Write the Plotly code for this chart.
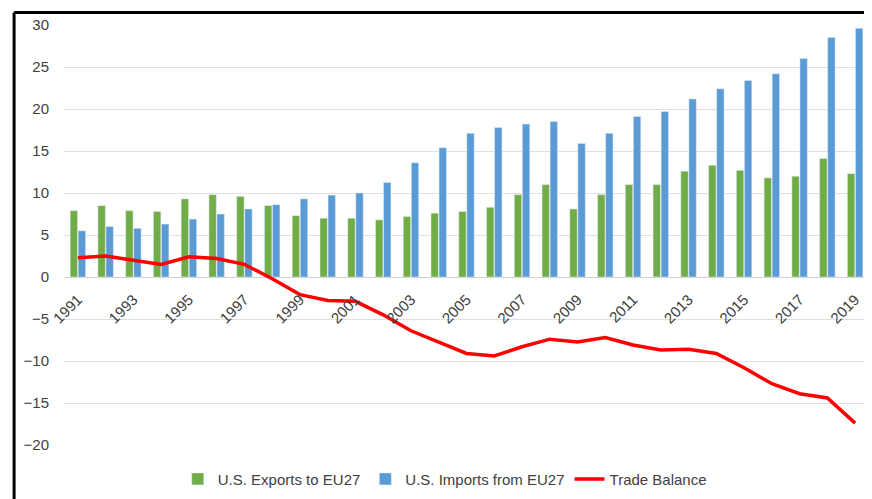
import plotly.graph_objects as go

years = list(range(1991, 2020))
exports = [7.9, 8.5, 7.9, 7.8, 9.3, 9.8, 9.6, 8.5, 7.3, 7.0, 7.0, 6.8, 7.2, 7.6, 7.8, 8.3,
           9.8, 11.0, 8.1, 9.8, 11.0, 11.0, 12.6, 13.3, 12.7, 11.8, 12.0, 14.1, 12.3]
imports = [5.5, 6.0, 5.8, 6.3, 6.9, 7.5, 8.1, 8.6, 9.3, 9.75, 10.0, 11.25, 13.6, 15.4, 17.1, 17.8,
           18.2, 18.5, 15.9, 17.1, 19.1, 19.7, 21.2, 22.4, 23.4, 24.2, 26.0, 28.5, 29.6]
balance = [2.3, 2.5, 2.0, 1.5, 2.4, 2.2, 1.5, -0.2, -2.1, -2.8, -2.9, -4.5, -6.4, -7.8, -9.1, -9.4,
           -8.3, -7.4, -7.75, -7.2, -8.1, -8.7, -8.6, -9.1, -10.8, -12.7, -13.9, -14.4, -17.4]
tick_years = list(range(1991, 2020, 2))

fig = go.Figure()
fig.add_trace(go.Bar(x=years, y=exports, name="U.S. Exports to EU27", marker_color="#70AD47"))
fig.add_trace(go.Bar(x=years, y=imports, name="U.S. Imports from EU27", marker_color="#5B9BD5"))
fig.add_trace(go.Scatter(x=years, y=balance, name="Trade Balance", mode="lines",
                         line=dict(color="#FF0000", width=3.5)))

# page body has an 8px margin, so the figure is sized and offset for that
fig.update_layout(
    width=864, height=491,
    margin=dict(l=56, r=3, t=17, b=40),
    paper_bgcolor="white", plot_bgcolor="white",
    font=dict(family="Liberation Sans, Arial", size=14, color="#404040"),
    barmode="group", bargap=0.42, bargroupgap=0.08,
    showlegend=True,
    legend=dict(orientation="h", x=0.473, xanchor="center", y=-0.042, yanchor="top",
                font=dict(size=15, color="#404040"), itemwidth=30),
    xaxis=dict(range=[1990.5, 2019.5], tickvals=tick_years, ticktext=[str(y) for y in tick_years],
               tickangle=-45, anchor="free", position=0.4, showgrid=False, showline=False,
               zeroline=False, ticks="", ticklabelstandoff=10, tickfont=dict(size=15)),
    yaxis=dict(range=[-20, 30], dtick=5, showgrid=True, gridcolor="#E0E0E0", gridwidth=1,
               zeroline=True, zerolinecolor="#D0D0D0", zerolinewidth=1, showline=False,
               ticks="", ticklabelstandoff=14, tickfont=dict(size=15)),
    shapes=[
        dict(type="line", xref="paper", yref="paper", x0=-0.062, x1=-0.062, y0=-0.2, y1=1.03,
             line=dict(color="black", width=3)),
        dict(type="line", xref="paper", yref="paper", x0=-0.062, x1=1.01, y0=1.03, y1=1.03,
             line=dict(color="black", width=3)),
    ],
)

fig.write_html("out.html")
